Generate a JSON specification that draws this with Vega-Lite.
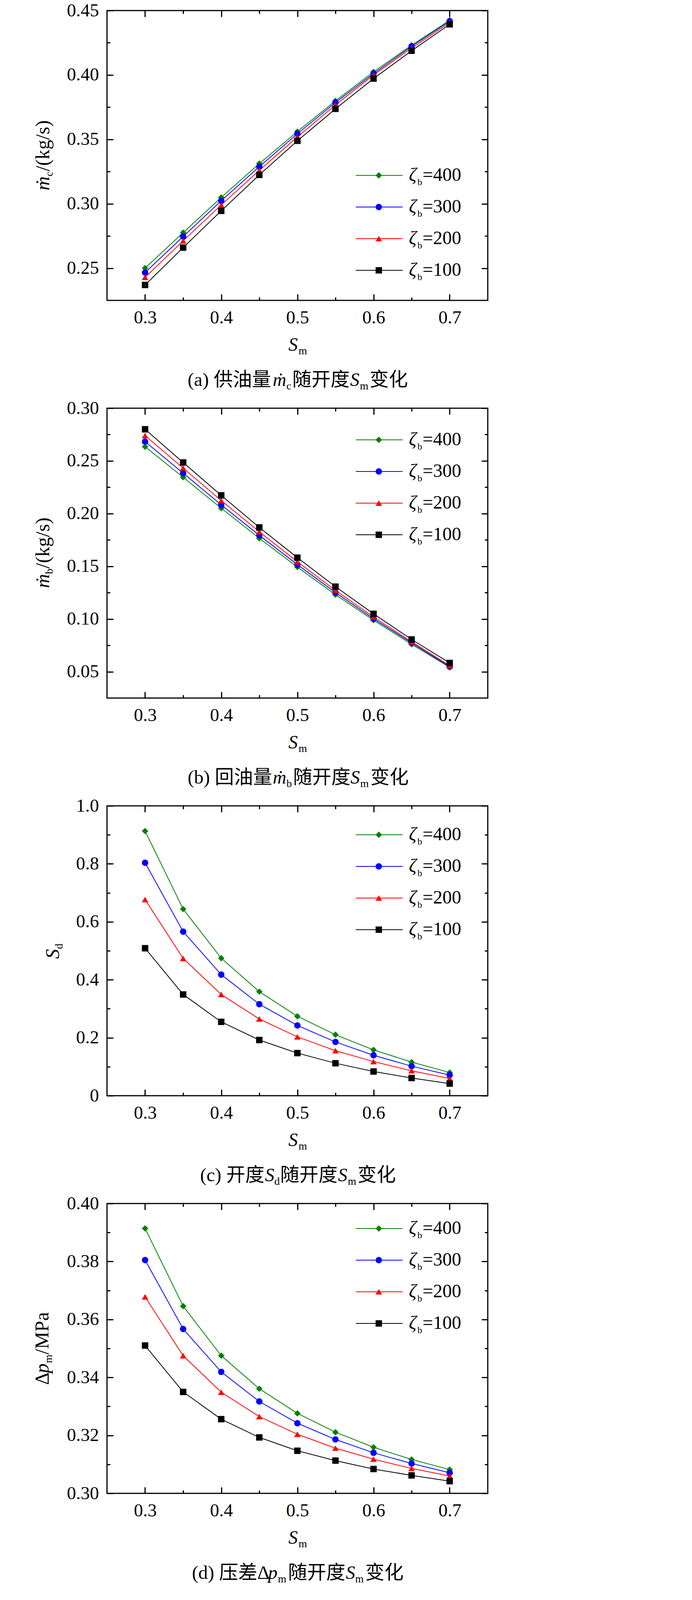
{
  "$schema": "https://vega.github.io/schema/vega-lite/v6.json",
  "padding": 0,
  "background": "#ffffff",
  "autosize": {"type": "pad"},
  "spacing": 276,
  "bounds": "flush",
  "datasets": {
    "a": [
      {"S":0.3,"zeta":"400","v":0.25},{"S":0.35,"zeta":"400","v":0.2776},{"S":0.4,"zeta":"400","v":0.3049},{"S":0.45,"zeta":"400","v":0.3312},{"S":0.5,"zeta":"400","v":0.356},{"S":0.55,"zeta":"400","v":0.3799},{"S":0.6,"zeta":"400","v":0.4024},{"S":0.65,"zeta":"400","v":0.4231},{"S":0.7,"zeta":"400","v":0.4425},
      {"S":0.3,"zeta":"300","v":0.2466},{"S":0.35,"zeta":"300","v":0.2746},{"S":0.4,"zeta":"300","v":0.3023},{"S":0.45,"zeta":"300","v":0.3288},{"S":0.5,"zeta":"300","v":0.3543},{"S":0.55,"zeta":"300","v":0.3786},{"S":0.6,"zeta":"300","v":0.4011},{"S":0.65,"zeta":"300","v":0.4222},{"S":0.7,"zeta":"300","v":0.4417},
      {"S":0.3,"zeta":"200","v":0.2429},{"S":0.35,"zeta":"200","v":0.2712},{"S":0.4,"zeta":"200","v":0.2991},{"S":0.45,"zeta":"200","v":0.3259},{"S":0.5,"zeta":"200","v":0.3519},{"S":0.55,"zeta":"200","v":0.3767},{"S":0.6,"zeta":"200","v":0.4},{"S":0.65,"zeta":"200","v":0.4209},{"S":0.7,"zeta":"200","v":0.4406},
      {"S":0.3,"zeta":"100","v":0.237},{"S":0.35,"zeta":"100","v":0.266},{"S":0.4,"zeta":"100","v":0.2945},{"S":0.45,"zeta":"100","v":0.3224},{"S":0.5,"zeta":"100","v":0.3489},{"S":0.55,"zeta":"100","v":0.3737},{"S":0.6,"zeta":"100","v":0.3972},{"S":0.65,"zeta":"100","v":0.4188},{"S":0.7,"zeta":"100","v":0.4393}
    ],
    "b": [
      {"S":0.3,"zeta":"400","v":0.2635},{"S":0.35,"zeta":"400","v":0.2345},{"S":0.4,"zeta":"400","v":0.2051},{"S":0.45,"zeta":"400","v":0.1766},{"S":0.5,"zeta":"400","v":0.1493},{"S":0.55,"zeta":"400","v":0.1231},{"S":0.6,"zeta":"400","v":0.0989},{"S":0.65,"zeta":"400","v":0.076},{"S":0.7,"zeta":"400","v":0.0541},
      {"S":0.3,"zeta":"300","v":0.2683},{"S":0.35,"zeta":"300","v":0.2384},{"S":0.4,"zeta":"300","v":0.2083},{"S":0.45,"zeta":"300","v":0.1794},{"S":0.5,"zeta":"300","v":0.1516},{"S":0.55,"zeta":"300","v":0.1251},{"S":0.6,"zeta":"300","v":0.1003},{"S":0.65,"zeta":"300","v":0.0773},{"S":0.7,"zeta":"300","v":0.0548},
      {"S":0.3,"zeta":"200","v":0.274},{"S":0.35,"zeta":"200","v":0.2432},{"S":0.4,"zeta":"200","v":0.2124},{"S":0.45,"zeta":"200","v":0.1828},{"S":0.5,"zeta":"200","v":0.1543},{"S":0.55,"zeta":"200","v":0.1272},{"S":0.6,"zeta":"200","v":0.1019},{"S":0.65,"zeta":"200","v":0.0783},{"S":0.7,"zeta":"200","v":0.0557},
      {"S":0.3,"zeta":"100","v":0.28},{"S":0.35,"zeta":"100","v":0.2485},{"S":0.4,"zeta":"100","v":0.2173},{"S":0.45,"zeta":"100","v":0.1869},{"S":0.5,"zeta":"100","v":0.1582},{"S":0.55,"zeta":"100","v":0.1307},{"S":0.6,"zeta":"100","v":0.1049},{"S":0.65,"zeta":"100","v":0.0806},{"S":0.7,"zeta":"100","v":0.0583}
    ],
    "c": [
      {"S":0.3,"zeta":"400","v":0.913},{"S":0.35,"zeta":"400","v":0.644},{"S":0.4,"zeta":"400","v":0.4745},{"S":0.45,"zeta":"400","v":0.359},{"S":0.5,"zeta":"400","v":0.274},{"S":0.55,"zeta":"400","v":0.2105},{"S":0.6,"zeta":"400","v":0.158},{"S":0.65,"zeta":"400","v":0.116},{"S":0.7,"zeta":"400","v":0.08},
      {"S":0.3,"zeta":"300","v":0.8037},{"S":0.35,"zeta":"300","v":0.566},{"S":0.4,"zeta":"300","v":0.4177},{"S":0.45,"zeta":"300","v":0.3158},{"S":0.5,"zeta":"300","v":0.2423},{"S":0.55,"zeta":"300","v":0.1855},{"S":0.6,"zeta":"300","v":0.1395},{"S":0.65,"zeta":"300","v":0.1019},{"S":0.7,"zeta":"300","v":0.071},
      {"S":0.3,"zeta":"200","v":0.6767},{"S":0.35,"zeta":"200","v":0.4737},{"S":0.4,"zeta":"200","v":0.3492},{"S":0.45,"zeta":"200","v":0.2648},{"S":0.5,"zeta":"200","v":0.203},{"S":0.55,"zeta":"200","v":0.1554},{"S":0.6,"zeta":"200","v":0.1178},{"S":0.65,"zeta":"200","v":0.086},{"S":0.7,"zeta":"200","v":0.0593},
      {"S":0.3,"zeta":"100","v":0.5088},{"S":0.35,"zeta":"100","v":0.3492},{"S":0.4,"zeta":"100","v":0.2548},{"S":0.45,"zeta":"100","v":0.1921},{"S":0.5,"zeta":"100","v":0.147},{"S":0.55,"zeta":"100","v":0.112},{"S":0.6,"zeta":"100","v":0.0835},{"S":0.65,"zeta":"100","v":0.061},{"S":0.7,"zeta":"100","v":0.0418}
    ],
    "d": [
      {"S":0.3,"zeta":"400","v":0.3914},{"S":0.35,"zeta":"400","v":0.3646},{"S":0.4,"zeta":"400","v":0.3475},{"S":0.45,"zeta":"400","v":0.3361},{"S":0.5,"zeta":"400","v":0.3276},{"S":0.55,"zeta":"400","v":0.3211},{"S":0.6,"zeta":"400","v":0.3159},{"S":0.65,"zeta":"400","v":0.3117},{"S":0.7,"zeta":"400","v":0.3082},
      {"S":0.3,"zeta":"300","v":0.3805},{"S":0.35,"zeta":"300","v":0.3567},{"S":0.4,"zeta":"300","v":0.3419},{"S":0.45,"zeta":"300","v":0.3317},{"S":0.5,"zeta":"300","v":0.3242},{"S":0.55,"zeta":"300","v":0.3186},{"S":0.6,"zeta":"300","v":0.314},{"S":0.65,"zeta":"300","v":0.3103},{"S":0.7,"zeta":"300","v":0.3071},
      {"S":0.3,"zeta":"200","v":0.3678},{"S":0.35,"zeta":"200","v":0.3475},{"S":0.4,"zeta":"200","v":0.3349},{"S":0.45,"zeta":"200","v":0.3265},{"S":0.5,"zeta":"200","v":0.3204},{"S":0.55,"zeta":"200","v":0.3156},{"S":0.6,"zeta":"200","v":0.3118},{"S":0.65,"zeta":"200","v":0.3086},{"S":0.7,"zeta":"200","v":0.306},
      {"S":0.3,"zeta":"100","v":0.351},{"S":0.35,"zeta":"100","v":0.335},{"S":0.4,"zeta":"100","v":0.3256},{"S":0.45,"zeta":"100","v":0.3193},{"S":0.5,"zeta":"100","v":0.3147},{"S":0.55,"zeta":"100","v":0.3113},{"S":0.6,"zeta":"100","v":0.3084},{"S":0.65,"zeta":"100","v":0.3062},{"S":0.7,"zeta":"100","v":0.3042}
    ]
  },
  "vconcat": [
    {
      "width": 975,
      "height": 742,
      "data": {"name": "a"},
      "layer": [
        {
          "mark": {"type": "line", "strokeWidth": 2},
          "encoding": {
            "x": {"field": "S", "type": "quantitative", "scale": {"domain": [0.25, 0.75]}, "axis": {"orient": "bottom", "values": [0.3, 0.4, 0.5, 0.6, 0.7], "format": ".1f", "ticks": true, "labels": true, "tickSize": -16, "labelPadding": 37, "title": "S", "titleFontStyle": "italic", "titleFontSize": 48, "titleAngle": 0, "titleAlign": "left", "titleBaseline": "alphabetic", "titleX": 464, "titleY": 128}},
            "y": {"field": "v", "type": "quantitative", "scale": {"domain": [0.225, 0.45]}, "axis": {"orient": "left", "values": [0.25, 0.3, 0.35, 0.4, 0.45], "format": ".2f", "ticks": true, "labels": true, "tickSize": -16, "labelPadding": 37, "title": "ṁ", "titleFontStyle": "italic", "titleFontSize": 50, "titleAngle": 270, "titleAlign": "left", "titleBaseline": "alphabetic", "titleX": -149, "titleY": 460}},
            "stroke": {"field": "zeta", "type": "nominal", "scale": {"domain": ["400", "300", "200", "100"], "range": ["#008000", "#0000ff", "#ff0000", "#000000"]}, "legend": {"title": null, "orient": "none", "legendX": 637, "legendY": 398, "direction": "vertical", "padding": 0, "rowPadding": 33, "symbolType": "M-4,0H4", "symbolSize": 900, "symbolOffset": 36, "symbolStrokeWidth": 2, "labelExpr": "'ζ'", "labelFontSize": 48, "labelFontStyle": "italic", "labelOffset": 52}}
          }
        },
        {
          "mark": {"type": "point", "filled": true, "size": 270, "opacity": 1},
          "encoding": {
            "x": {"field": "S", "type": "quantitative", "scale": {"domain": [0.25, 0.75]}, "axis": {"orient": "bottom", "values": [0.35, 0.45, 0.55, 0.65], "ticks": true, "tickSize": -8, "title": "m", "titleFontSize": 28, "titleAngle": 0, "titleAlign": "left", "titleBaseline": "alphabetic", "titleX": 490, "titleY": 137}},
            "y": {"field": "v", "type": "quantitative", "scale": {"domain": [0.225, 0.45]}, "axis": {"orient": "left", "values": [0.275, 0.325, 0.375, 0.425], "ticks": true, "tickSize": -8, "title": "c", "titleFontSize": 28, "titleAngle": 270, "titleAlign": "left", "titleBaseline": "alphabetic", "titleX": -140, "titleY": 424}},
            "fill": {"field": "zeta", "type": "nominal", "sort": "descending", "scale": {"range": ["#008000", "#0000ff", "#ff0000", "#000000"]}, "legend": {"title": null, "orient": "none", "legendX": 672, "legendY": 398, "direction": "vertical", "padding": 0, "rowPadding": 33, "symbolSize": 270, "symbolStrokeWidth": 0, "labelExpr": "'=' + datum.label", "labelFontSize": 48, "labelOffset": 88}},
            "shape": {"field": "zeta", "type": "nominal", "sort": "descending", "scale": {"range": ["diamond", "circle", "triangle-up", "square"]}, "legend": {"title": null, "orient": "none", "legendX": 672, "legendY": 398, "direction": "vertical", "padding": 0, "rowPadding": 33, "symbolSize": 270, "symbolStrokeWidth": 0, "labelExpr": "'=' + datum.label", "labelFontSize": 48, "labelOffset": 88}}
          }
        },
        {
          "mark": {"type": "line", "opacity": 0},
          "encoding": {
            "x": {"field": "S", "type": "quantitative", "scale": {"domain": [0.25, 0.75]}, "axis": {"orient": "top", "values": [0.3, 0.4, 0.5, 0.6, 0.7], "ticks": true, "tickSize": -16, "title": "(a) 供油量", "titleFont": "Liberation Serif, Noto Sans CJK SC", "titleFontSize": 49, "titleAngle": 0, "titleAlign": "left", "titleBaseline": "alphabetic", "titleX": 206, "titleY": 960}},
            "y": {"field": "v", "type": "quantitative", "scale": {"domain": [0.225, 0.45]}, "axis": {"orient": "right", "values": [0.25, 0.3, 0.35, 0.4, 0.45], "ticks": true, "tickSize": -16, "title": "/(kg/s)", "titleFontSize": 50, "titleAngle": 270, "titleAlign": "left", "titleBaseline": "alphabetic", "titleX": -1124, "titleY": 411}},
            "strokeDash": {"field": "zeta", "type": "nominal", "sort": ["400", "300", "200", "100"], "legend": {"title": null, "orient": "none", "legendX": 720, "legendY": 416, "direction": "vertical", "padding": 0, "rowPadding": 33, "symbolType": "circle", "symbolSize": 2304, "symbolStrokeWidth": 0, "symbolOpacity": 0, "labelExpr": "'b'", "labelFontSize": 24, "labelOffset": 27}}
          }
        },
        {
          "mark": {"type": "point", "opacity": 0},
          "encoding": {
            "x": {"field": "S", "type": "quantitative", "scale": {"domain": [0.25, 0.75]}, "axis": {"orient": "top", "values": [0.35, 0.45, 0.55, 0.65], "ticks": true, "tickSize": -8, "title": "ṁ", "titleFontStyle": "italic", "titleFontSize": 48, "titleAngle": 0, "titleAlign": "left", "titleBaseline": "alphabetic", "titleX": 424, "titleY": 960}},
            "y": {"field": "v", "type": "quantitative", "scale": {"domain": [0.225, 0.45]}, "axis": {"orient": "right", "values": [0.275, 0.325, 0.375, 0.425], "ticks": true, "tickSize": -8, "title": "c", "titleFontSize": 28, "titleAngle": 0, "titleAlign": "left", "titleBaseline": "alphabetic", "titleX": -516, "titleY": 969}}
          }
        },
        {
          "mark": {"type": "point", "opacity": 0},
          "encoding": {
            "x": {"field": "S", "type": "quantitative", "scale": {"domain": [0.25, 0.75]}, "axis": {"orient": "top", "title": "随开度", "titleFont": "Liberation Serif, Noto Sans CJK SC", "titleFontSize": 49, "titleAngle": 0, "titleAlign": "left", "titleBaseline": "alphabetic", "titleX": 474, "titleY": 960}},
            "y": {"field": "v", "type": "quantitative", "scale": {"domain": [0.225, 0.45]}, "axis": {"orient": "left", "title": "S", "titleFontStyle": "italic", "titleFontSize": 48, "titleAngle": 0, "titleAlign": "left", "titleBaseline": "alphabetic", "titleX": 622, "titleY": 960}}
          }
        },
        {
          "mark": {"type": "point", "opacity": 0},
          "encoding": {
            "x": {"field": "S", "type": "quantitative", "scale": {"domain": [0.25, 0.75]}, "axis": {"orient": "top", "title": "m", "titleFontSize": 28, "titleAngle": 0, "titleAlign": "left", "titleBaseline": "alphabetic", "titleX": 647, "titleY": 969}},
            "y": {"field": "v", "type": "quantitative", "scale": {"domain": [0.225, 0.45]}, "axis": {"orient": "left", "title": "变化", "titleFont": "Liberation Serif, Noto Sans CJK SC", "titleFontSize": 49, "titleAngle": 0, "titleAlign": "left", "titleBaseline": "alphabetic", "titleX": 672, "titleY": 960}}
          }
        },
        {
          "mark": {"type": "point", "opacity": 0},
          "encoding": {
            "x": {"field": "S", "type": "quantitative", "scale": {"domain": [0.25, 0.75]}, "axis": {"orient": "top", "title": " ", "titleFontSize": 16, "titleAngle": 0, "titleAlign": "left", "titleBaseline": "top", "titleX": -272, "titleY": -25}},
            "y": {"field": "v", "type": "quantitative", "scale": {"domain": [0.225, 0.45]}, "axis": null}
          }
        }
      ],
      "resolve": {"axis": {"x": "independent", "y": "independent"}}
    },
    {
      "width": 975,
      "height": 742,
      "data": {"name": "b"},
      "layer": [
        {
          "mark": {"type": "line", "strokeWidth": 2},
          "encoding": {
            "x": {"field": "S", "type": "quantitative", "scale": {"domain": [0.25, 0.75]}, "axis": {"orient": "bottom", "values": [0.3, 0.4, 0.5, 0.6, 0.7], "format": ".1f", "ticks": true, "labels": true, "tickSize": -16, "labelPadding": 37, "title": "S", "titleFontStyle": "italic", "titleFontSize": 48, "titleAngle": 0, "titleAlign": "left", "titleBaseline": "alphabetic", "titleX": 464, "titleY": 128}},
            "y": {"field": "v", "type": "quantitative", "scale": {"domain": [0.025, 0.3]}, "axis": {"orient": "left", "values": [0.05, 0.1, 0.15, 0.2, 0.25, 0.3], "format": ".2f", "ticks": true, "labels": true, "tickSize": -16, "labelPadding": 37, "title": "ṁ", "titleFontStyle": "italic", "titleFontSize": 50, "titleAngle": 270, "titleAlign": "left", "titleBaseline": "alphabetic", "titleX": -149, "titleY": 460}},
            "stroke": {"field": "zeta", "type": "nominal", "scale": {"domain": ["400", "300", "200", "100"], "range": ["#008000", "#0000ff", "#ff0000", "#000000"]}, "legend": {"title": null, "orient": "none", "legendX": 637, "legendY": 57, "direction": "vertical", "padding": 0, "rowPadding": 33, "symbolType": "M-4,0H4", "symbolSize": 900, "symbolOffset": 36, "symbolStrokeWidth": 2, "labelExpr": "'ζ'", "labelFontSize": 48, "labelFontStyle": "italic", "labelOffset": 52}}
          }
        },
        {
          "mark": {"type": "point", "filled": true, "size": 270, "opacity": 1},
          "encoding": {
            "x": {"field": "S", "type": "quantitative", "scale": {"domain": [0.25, 0.75]}, "axis": {"orient": "bottom", "values": [0.35, 0.45, 0.55, 0.65], "ticks": true, "tickSize": -8, "title": "m", "titleFontSize": 28, "titleAngle": 0, "titleAlign": "left", "titleBaseline": "alphabetic", "titleX": 490, "titleY": 137}},
            "y": {"field": "v", "type": "quantitative", "scale": {"domain": [0.025, 0.3]}, "axis": {"orient": "left", "values": [0.075, 0.125, 0.175, 0.225, 0.275], "ticks": true, "tickSize": -8, "title": "b", "titleFontSize": 28, "titleAngle": 270, "titleAlign": "left", "titleBaseline": "alphabetic", "titleX": -140, "titleY": 424}},
            "fill": {"field": "zeta", "type": "nominal", "sort": "descending", "scale": {"range": ["#008000", "#0000ff", "#ff0000", "#000000"]}, "legend": {"title": null, "orient": "none", "legendX": 672, "legendY": 57, "direction": "vertical", "padding": 0, "rowPadding": 33, "symbolSize": 270, "symbolStrokeWidth": 0, "labelExpr": "'=' + datum.label", "labelFontSize": 48, "labelOffset": 88}},
            "shape": {"field": "zeta", "type": "nominal", "sort": "descending", "scale": {"range": ["diamond", "circle", "triangle-up", "square"]}, "legend": {"title": null, "orient": "none", "legendX": 672, "legendY": 57, "direction": "vertical", "padding": 0, "rowPadding": 33, "symbolSize": 270, "symbolStrokeWidth": 0, "labelExpr": "'=' + datum.label", "labelFontSize": 48, "labelOffset": 88}}
          }
        },
        {
          "mark": {"type": "line", "opacity": 0},
          "encoding": {
            "x": {"field": "S", "type": "quantitative", "scale": {"domain": [0.25, 0.75]}, "axis": {"orient": "top", "values": [0.3, 0.4, 0.5, 0.6, 0.7], "ticks": true, "tickSize": -16, "title": "(b) 回油量", "titleFont": "Liberation Serif, Noto Sans CJK SC", "titleFontSize": 49, "titleAngle": 0, "titleAlign": "left", "titleBaseline": "alphabetic", "titleX": 206, "titleY": 960}},
            "y": {"field": "v", "type": "quantitative", "scale": {"domain": [0.025, 0.3]}, "axis": {"orient": "right", "values": [0.05, 0.1, 0.15, 0.2, 0.25, 0.3], "ticks": true, "tickSize": -16, "title": "/(kg/s)", "titleFontSize": 50, "titleAngle": 270, "titleAlign": "left", "titleBaseline": "alphabetic", "titleX": -1124, "titleY": 410}},
            "strokeDash": {"field": "zeta", "type": "nominal", "sort": ["400", "300", "200", "100"], "legend": {"title": null, "orient": "none", "legendX": 720, "legendY": 75, "direction": "vertical", "padding": 0, "rowPadding": 33, "symbolType": "circle", "symbolSize": 2304, "symbolStrokeWidth": 0, "symbolOpacity": 0, "labelExpr": "'b'", "labelFontSize": 24, "labelOffset": 27}}
          }
        },
        {
          "mark": {"type": "point", "opacity": 0},
          "encoding": {
            "x": {"field": "S", "type": "quantitative", "scale": {"domain": [0.25, 0.75]}, "axis": {"orient": "top", "values": [0.35, 0.45, 0.55, 0.65], "ticks": true, "tickSize": -8, "title": "ṁ", "titleFontStyle": "italic", "titleFontSize": 48, "titleAngle": 0, "titleAlign": "left", "titleBaseline": "alphabetic", "titleX": 424, "titleY": 960}},
            "y": {"field": "v", "type": "quantitative", "scale": {"domain": [0.025, 0.3]}, "axis": {"orient": "right", "values": [0.075, 0.125, 0.175, 0.225, 0.275], "ticks": true, "tickSize": -8, "title": "b", "titleFontSize": 28, "titleAngle": 0, "titleAlign": "left", "titleBaseline": "alphabetic", "titleX": -516, "titleY": 969}}
          }
        },
        {
          "mark": {"type": "point", "opacity": 0},
          "encoding": {
            "x": {"field": "S", "type": "quantitative", "scale": {"domain": [0.25, 0.75]}, "axis": {"orient": "top", "title": "随开度", "titleFont": "Liberation Serif, Noto Sans CJK SC", "titleFontSize": 49, "titleAngle": 0, "titleAlign": "left", "titleBaseline": "alphabetic", "titleX": 476, "titleY": 960}},
            "y": {"field": "v", "type": "quantitative", "scale": {"domain": [0.025, 0.3]}, "axis": {"orient": "left", "title": "S", "titleFontStyle": "italic", "titleFontSize": 48, "titleAngle": 0, "titleAlign": "left", "titleBaseline": "alphabetic", "titleX": 623, "titleY": 960}}
          }
        },
        {
          "mark": {"type": "point", "opacity": 0},
          "encoding": {
            "x": {"field": "S", "type": "quantitative", "scale": {"domain": [0.25, 0.75]}, "axis": {"orient": "top", "title": "m", "titleFontSize": 28, "titleAngle": 0, "titleAlign": "left", "titleBaseline": "alphabetic", "titleX": 648, "titleY": 969}},
            "y": {"field": "v", "type": "quantitative", "scale": {"domain": [0.025, 0.3]}, "axis": {"orient": "left", "title": "变化", "titleFont": "Liberation Serif, Noto Sans CJK SC", "titleFontSize": 49, "titleAngle": 0, "titleAlign": "left", "titleBaseline": "alphabetic", "titleX": 674, "titleY": 960}}
          }
        }
      ],
      "resolve": {"axis": {"x": "independent", "y": "independent"}}
    },
    {
      "width": 975,
      "height": 742,
      "data": {"name": "c"},
      "layer": [
        {
          "mark": {"type": "line", "strokeWidth": 2},
          "encoding": {
            "x": {"field": "S", "type": "quantitative", "scale": {"domain": [0.25, 0.75]}, "axis": {"orient": "bottom", "values": [0.3, 0.4, 0.5, 0.6, 0.7], "format": ".1f", "ticks": true, "labels": true, "tickSize": -16, "labelPadding": 37, "title": "S", "titleFontStyle": "italic", "titleFontSize": 48, "titleAngle": 0, "titleAlign": "left", "titleBaseline": "alphabetic", "titleX": 464, "titleY": 128}},
            "y": {"field": "v", "type": "quantitative", "scale": {"domain": [0, 1]}, "axis": {"orient": "left", "values": [0, 0.2, 0.4, 0.6, 0.8, 1], "labelExpr": "datum.value == 0 ? '0' : format(datum.value, '.1f')", "ticks": true, "labels": true, "tickSize": -16, "labelPadding": 37, "title": "S", "titleFontStyle": "italic", "titleFontSize": 50, "titleAngle": 270, "titleAlign": "left", "titleBaseline": "alphabetic", "titleX": -124, "titleY": 391}},
            "stroke": {"field": "zeta", "type": "nominal", "scale": {"domain": ["400", "300", "200", "100"], "range": ["#008000", "#0000ff", "#ff0000", "#000000"]}, "legend": {"title": null, "orient": "none", "legendX": 637, "legendY": 50, "direction": "vertical", "padding": 0, "rowPadding": 33, "symbolType": "M-4,0H4", "symbolSize": 900, "symbolOffset": 36, "symbolStrokeWidth": 2, "labelExpr": "'ζ'", "labelFontSize": 48, "labelFontStyle": "italic", "labelOffset": 52}}
          }
        },
        {
          "mark": {"type": "point", "filled": true, "size": 270, "opacity": 1},
          "encoding": {
            "x": {"field": "S", "type": "quantitative", "scale": {"domain": [0.25, 0.75]}, "axis": {"orient": "bottom", "values": [0.35, 0.45, 0.55, 0.65], "ticks": true, "tickSize": -8, "title": "m", "titleFontSize": 28, "titleAngle": 0, "titleAlign": "left", "titleBaseline": "alphabetic", "titleX": 490, "titleY": 137}},
            "y": {"field": "v", "type": "quantitative", "scale": {"domain": [0, 1]}, "axis": {"orient": "left", "values": [0.1, 0.3, 0.5, 0.7, 0.9], "ticks": true, "tickSize": -8, "title": "d", "titleFontSize": 28, "titleAngle": 270, "titleAlign": "left", "titleBaseline": "alphabetic", "titleX": -115, "titleY": 366}},
            "fill": {"field": "zeta", "type": "nominal", "sort": "descending", "scale": {"range": ["#008000", "#0000ff", "#ff0000", "#000000"]}, "legend": {"title": null, "orient": "none", "legendX": 672, "legendY": 50, "direction": "vertical", "padding": 0, "rowPadding": 33, "symbolSize": 270, "symbolStrokeWidth": 0, "labelExpr": "'=' + datum.label", "labelFontSize": 48, "labelOffset": 88}},
            "shape": {"field": "zeta", "type": "nominal", "sort": "descending", "scale": {"range": ["diamond", "circle", "triangle-up", "square"]}, "legend": {"title": null, "orient": "none", "legendX": 672, "legendY": 50, "direction": "vertical", "padding": 0, "rowPadding": 33, "symbolSize": 270, "symbolStrokeWidth": 0, "labelExpr": "'=' + datum.label", "labelFontSize": 48, "labelOffset": 88}}
          }
        },
        {
          "mark": {"type": "line", "opacity": 0},
          "encoding": {
            "x": {"field": "S", "type": "quantitative", "scale": {"domain": [0.25, 0.75]}, "axis": {"orient": "top", "values": [0.3, 0.4, 0.5, 0.6, 0.7], "ticks": true, "tickSize": -16, "title": "(c) 开度", "titleFont": "Liberation Serif, Noto Sans CJK SC", "titleFontSize": 49, "titleAngle": 0, "titleAlign": "left", "titleBaseline": "alphabetic", "titleX": 238, "titleY": 960}},
            "y": {"field": "v", "type": "quantitative", "scale": {"domain": [0, 1]}, "axis": {"orient": "right", "values": [0, 0.2, 0.4, 0.6, 0.8, 1], "ticks": true, "tickSize": -16, "title": null}},
            "strokeDash": {"field": "zeta", "type": "nominal", "sort": ["400", "300", "200", "100"], "legend": {"title": null, "orient": "none", "legendX": 720, "legendY": 68, "direction": "vertical", "padding": 0, "rowPadding": 33, "symbolType": "circle", "symbolSize": 2304, "symbolStrokeWidth": 0, "symbolOpacity": 0, "labelExpr": "'b'", "labelFontSize": 24, "labelOffset": 27}}
          }
        },
        {
          "mark": {"type": "point", "opacity": 0},
          "encoding": {
            "x": {"field": "S", "type": "quantitative", "scale": {"domain": [0.25, 0.75]}, "axis": {"orient": "top", "values": [0.35, 0.45, 0.55, 0.65], "ticks": true, "tickSize": -8, "title": "S", "titleFontStyle": "italic", "titleFontSize": 48, "titleAngle": 0, "titleAlign": "left", "titleBaseline": "alphabetic", "titleX": 404, "titleY": 960}},
            "y": {"field": "v", "type": "quantitative", "scale": {"domain": [0, 1]}, "axis": {"orient": "right", "values": [0.1, 0.3, 0.5, 0.7, 0.9], "ticks": true, "tickSize": -8, "title": "d", "titleFontSize": 28, "titleAngle": 0, "titleAlign": "left", "titleBaseline": "alphabetic", "titleX": -547, "titleY": 969}}
          }
        },
        {
          "mark": {"type": "point", "opacity": 0},
          "encoding": {
            "x": {"field": "S", "type": "quantitative", "scale": {"domain": [0.25, 0.75]}, "axis": {"orient": "top", "title": "随开度", "titleFont": "Liberation Serif, Noto Sans CJK SC", "titleFontSize": 49, "titleAngle": 0, "titleAlign": "left", "titleBaseline": "alphabetic", "titleX": 443, "titleY": 960}},
            "y": {"field": "v", "type": "quantitative", "scale": {"domain": [0, 1]}, "axis": {"orient": "left", "title": "S", "titleFontStyle": "italic", "titleFontSize": 48, "titleAngle": 0, "titleAlign": "left", "titleBaseline": "alphabetic", "titleX": 591, "titleY": 960}}
          }
        },
        {
          "mark": {"type": "point", "opacity": 0},
          "encoding": {
            "x": {"field": "S", "type": "quantitative", "scale": {"domain": [0.25, 0.75]}, "axis": {"orient": "top", "title": "m", "titleFontSize": 28, "titleAngle": 0, "titleAlign": "left", "titleBaseline": "alphabetic", "titleX": 616, "titleY": 969}},
            "y": {"field": "v", "type": "quantitative", "scale": {"domain": [0, 1]}, "axis": {"orient": "left", "title": "变化", "titleFont": "Liberation Serif, Noto Sans CJK SC", "titleFontSize": 49, "titleAngle": 0, "titleAlign": "left", "titleBaseline": "alphabetic", "titleX": 641, "titleY": 960}}
          }
        }
      ],
      "resolve": {"axis": {"x": "independent", "y": "independent"}}
    },
    {
      "width": 975,
      "height": 742,
      "data": {"name": "d"},
      "layer": [
        {
          "mark": {"type": "line", "strokeWidth": 2},
          "encoding": {
            "x": {"field": "S", "type": "quantitative", "scale": {"domain": [0.25, 0.75]}, "axis": {"orient": "bottom", "values": [0.3, 0.4, 0.5, 0.6, 0.7], "format": ".1f", "ticks": true, "labels": true, "tickSize": -16, "labelPadding": 37, "title": "S", "titleFontStyle": "italic", "titleFontSize": 48, "titleAngle": 0, "titleAlign": "left", "titleBaseline": "alphabetic", "titleX": 464, "titleY": 128}},
            "y": {"field": "v", "type": "quantitative", "scale": {"domain": [0.3, 0.4]}, "axis": {"orient": "left", "values": [0.3, 0.32, 0.34, 0.36, 0.38, 0.4], "format": ".2f", "ticks": true, "labels": true, "tickSize": -16, "labelPadding": 37, "title": "Δ", "titleFontSize": 50, "titleAngle": 270, "titleAlign": "left", "titleBaseline": "alphabetic", "titleX": -151, "titleY": 464}},
            "stroke": {"field": "zeta", "type": "nominal", "scale": {"domain": ["400", "300", "200", "100"], "range": ["#008000", "#0000ff", "#ff0000", "#000000"]}, "legend": {"title": null, "orient": "none", "legendX": 637, "legendY": 40, "direction": "vertical", "padding": 0, "rowPadding": 33, "symbolType": "M-4,0H4", "symbolSize": 900, "symbolOffset": 36, "symbolStrokeWidth": 2, "labelExpr": "'ζ'", "labelFontSize": 48, "labelFontStyle": "italic", "labelOffset": 52}}
          }
        },
        {
          "mark": {"type": "point", "filled": true, "size": 270, "opacity": 1},
          "encoding": {
            "x": {"field": "S", "type": "quantitative", "scale": {"domain": [0.25, 0.75]}, "axis": {"orient": "bottom", "values": [0.35, 0.45, 0.55, 0.65], "ticks": true, "tickSize": -8, "title": "m", "titleFontSize": 28, "titleAngle": 0, "titleAlign": "left", "titleBaseline": "alphabetic", "titleX": 490, "titleY": 137}},
            "y": {"field": "v", "type": "quantitative", "scale": {"domain": [0.3, 0.4]}, "axis": {"orient": "left", "values": [0.31, 0.33, 0.35, 0.37, 0.39], "ticks": true, "tickSize": -8, "title": "m", "titleFontSize": 28, "titleAngle": 270, "titleAlign": "left", "titleBaseline": "alphabetic", "titleX": -142, "titleY": 408}},
            "fill": {"field": "zeta", "type": "nominal", "sort": "descending", "scale": {"range": ["#008000", "#0000ff", "#ff0000", "#000000"]}, "legend": {"title": null, "orient": "none", "legendX": 672, "legendY": 40, "direction": "vertical", "padding": 0, "rowPadding": 33, "symbolSize": 270, "symbolStrokeWidth": 0, "labelExpr": "'=' + datum.label", "labelFontSize": 48, "labelOffset": 88}},
            "shape": {"field": "zeta", "type": "nominal", "sort": "descending", "scale": {"range": ["diamond", "circle", "triangle-up", "square"]}, "legend": {"title": null, "orient": "none", "legendX": 672, "legendY": 40, "direction": "vertical", "padding": 0, "rowPadding": 33, "symbolSize": 270, "symbolStrokeWidth": 0, "labelExpr": "'=' + datum.label", "labelFontSize": 48, "labelOffset": 88}}
          }
        },
        {
          "mark": {"type": "line", "opacity": 0},
          "encoding": {
            "x": {"field": "S", "type": "quantitative", "scale": {"domain": [0.25, 0.75]}, "axis": {"orient": "top", "values": [0.3, 0.4, 0.5, 0.6, 0.7], "ticks": true, "tickSize": -16, "title": "(d) 压差Δ", "titleFont": "Liberation Serif, Noto Sans CJK SC", "titleFontSize": 49, "titleAngle": 0, "titleAlign": "left", "titleBaseline": "alphabetic", "titleX": 217, "titleY": 960}},
            "y": {"field": "v", "type": "quantitative", "scale": {"domain": [0.3, 0.4]}, "axis": {"orient": "right", "values": [0.3, 0.32, 0.34, 0.36, 0.38, 0.4], "ticks": true, "tickSize": -16, "title": "/MPa", "titleFontSize": 50, "titleAngle": 270, "titleAlign": "left", "titleBaseline": "alphabetic", "titleX": -1126, "titleY": 386}},
            "strokeDash": {"field": "zeta", "type": "nominal", "sort": ["400", "300", "200", "100"], "legend": {"title": null, "orient": "none", "legendX": 720, "legendY": 58, "direction": "vertical", "padding": 0, "rowPadding": 33, "symbolType": "circle", "symbolSize": 2304, "symbolStrokeWidth": 0, "symbolOpacity": 0, "labelExpr": "'b'", "labelFontSize": 24, "labelOffset": 27}}
          }
        },
        {
          "mark": {"type": "point", "opacity": 0},
          "encoding": {
            "x": {"field": "S", "type": "quantitative", "scale": {"domain": [0.25, 0.75]}, "axis": {"orient": "top", "values": [0.35, 0.45, 0.55, 0.65], "ticks": true, "tickSize": -8, "title": "p", "titleFontStyle": "italic", "titleFontSize": 48, "titleAngle": 0, "titleAlign": "left", "titleBaseline": "alphabetic", "titleX": 412, "titleY": 960}},
            "y": {"field": "v", "type": "quantitative", "scale": {"domain": [0.3, 0.4]}, "axis": {"orient": "right", "values": [0.31, 0.33, 0.35, 0.37, 0.39], "ticks": true, "tickSize": -8, "title": "m", "titleFontSize": 28, "titleAngle": 0, "titleAlign": "left", "titleBaseline": "alphabetic", "titleX": -538, "titleY": 969}}
          }
        },
        {
          "mark": {"type": "point", "opacity": 0},
          "encoding": {
            "x": {"field": "S", "type": "quantitative", "scale": {"domain": [0.25, 0.75]}, "axis": {"orient": "top", "title": "随开度", "titleFont": "Liberation Serif, Noto Sans CJK SC", "titleFontSize": 49, "titleAngle": 0, "titleAlign": "left", "titleBaseline": "alphabetic", "titleX": 463, "titleY": 960}},
            "y": {"field": "v", "type": "quantitative", "scale": {"domain": [0.3, 0.4]}, "axis": {"orient": "left", "title": "S", "titleFontStyle": "italic", "titleFontSize": 48, "titleAngle": 0, "titleAlign": "left", "titleBaseline": "alphabetic", "titleX": 611, "titleY": 960}}
          }
        },
        {
          "mark": {"type": "point", "opacity": 0},
          "encoding": {
            "x": {"field": "S", "type": "quantitative", "scale": {"domain": [0.25, 0.75]}, "axis": {"orient": "top", "title": "m", "titleFontSize": 28, "titleAngle": 0, "titleAlign": "left", "titleBaseline": "alphabetic", "titleX": 635, "titleY": 969}},
            "y": {"field": "v", "type": "quantitative", "scale": {"domain": [0.3, 0.4]}, "axis": {"orient": "left", "title": "变化", "titleFont": "Liberation Serif, Noto Sans CJK SC", "titleFontSize": 49, "titleAngle": 0, "titleAlign": "left", "titleBaseline": "alphabetic", "titleX": 661, "titleY": 960}}
          }
        },
        {
          "mark": {"type": "point", "opacity": 0},
          "encoding": {
            "x": {"field": "S", "type": "quantitative", "scale": {"domain": [0.25, 0.75]}, "axis": null},
            "y": {"field": "v", "type": "quantitative", "scale": {"domain": [0.3, 0.4]}, "axis": {"orient": "left", "title": "p", "titleFontStyle": "italic", "titleFontSize": 50, "titleAngle": 270, "titleAlign": "left", "titleBaseline": "alphabetic", "titleX": -151, "titleY": 434}}
          }
        }
      ],
      "resolve": {"axis": {"x": "independent", "y": "independent"}}
    }
  ],
  "resolve": {"scale": {"stroke": "independent", "fill": "independent", "shape": "independent", "strokeDash": "independent"}},
  "config": {
    "view": {"stroke": "#000000", "strokeWidth": 3},
    "font": "Liberation Serif",
    "axis": {"domain": false, "grid": false, "ticks": false, "labels": false, "tickColor": "#000000", "tickWidth": 3, "labelFont": "Liberation Serif", "labelFontSize": 47, "labelColor": "#000000", "labelFlush": false, "labelOverlap": false, "titleFont": "Liberation Serif", "titleFontWeight": "normal", "titleColor": "#000000", "titlePadding": 0},
    "legend": {"labelFont": "Liberation Serif", "labelColor": "#000000"}
  }
}
